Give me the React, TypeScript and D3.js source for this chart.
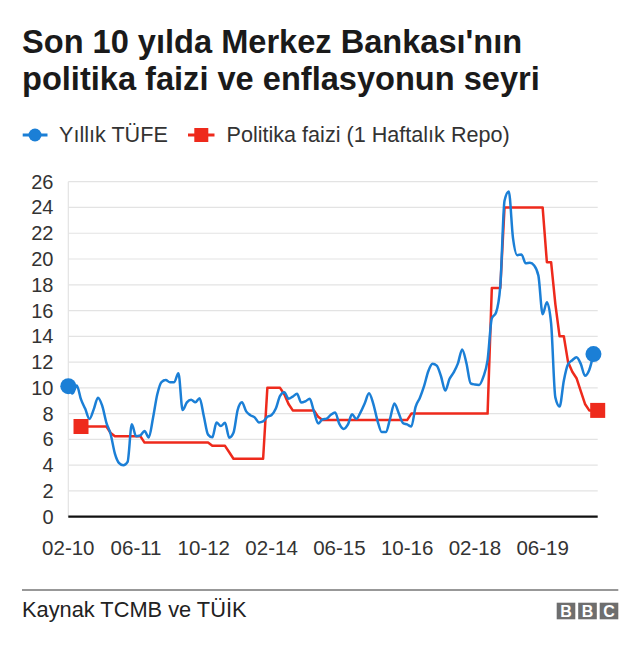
import React from "react";
import * as d3 from "d3";

// Yıllık TÜFE, monthly, 02-2010 .. 06-2020
const cpi: number[] = [
  10.13, 9.56, 10.19, 9.1, 8.37, 7.58, 8.33, 9.24, 8.62, 7.29, 6.4,
  4.9, 4.16, 3.99, 4.26, 7.17, 6.24, 6.31, 6.65, 6.15, 7.66, 9.48, 10.45,
  10.61, 10.43, 10.43, 11.14, 8.28, 8.87, 9.07, 8.88, 9.19, 7.8, 6.37, 6.16,
  7.31, 7.03, 7.29, 6.13, 6.51, 8.3, 8.88, 8.17, 7.88, 7.71, 7.32, 7.4,
  7.75, 7.89, 8.39, 9.38, 9.66, 9.16, 9.32, 9.54, 8.86, 8.96, 9.15, 8.17,
  7.24, 7.55, 7.61, 7.91, 8.09, 7.2, 6.81, 7.14, 7.95, 7.58, 8.1, 8.81,
  9.58, 8.78, 7.46, 6.57, 6.58, 7.64, 8.79, 8.05, 7.28, 7.16, 7.0, 8.53,
  9.22, 10.13, 11.29, 11.87, 11.72, 10.9, 9.79, 10.68, 11.2, 11.9, 12.98, 11.92,
  10.35, 10.26, 10.23, 10.85, 12.15, 15.39, 15.85, 17.9, 24.52, 25.24, 21.62, 20.3,
  20.35, 19.67, 19.71, 19.5, 18.71, 15.72, 16.65, 15.01, 9.26, 8.55, 10.56, 11.84,
  12.15, 12.37, 11.86, 10.94, 11.39, 12.62,
];

// Politika faizi (1 Haftalık Repo), monthly, 05-2010 .. 07-2020
const policyStart = 3; // month offset from 02-2010
const policy: number[] = [
  7, 7, 7, 7, 7, 7, 7, 6.5,
  6.25, 6.25, 6.25, 6.25, 6.25, 6.25, 6.25, 5.75, 5.75, 5.75, 5.75, 5.75,
  5.75, 5.75, 5.75, 5.75, 5.75, 5.75, 5.75, 5.75, 5.75, 5.75, 5.75, 5.5,
  5.5, 5.5, 5.5, 5.0, 4.5, 4.5, 4.5, 4.5, 4.5, 4.5, 4.5, 4.5,
  10, 10, 10, 10, 9.5, 8.75, 8.25, 8.25, 8.25, 8.25, 8.25, 8.25,
  7.75, 7.5, 7.5, 7.5, 7.5, 7.5, 7.5, 7.5, 7.5, 7.5, 7.5, 7.5,
  7.5, 7.5, 7.5, 7.5, 7.5, 7.5, 7.5, 7.5, 7.5, 7.5, 8, 8,
  8, 8, 8, 8, 8, 8, 8, 8, 8, 8, 8, 8,
  8, 8, 8, 8, 8, 17.75, 17.75, 17.75, 24, 24, 24, 24,
  24, 24, 24, 24, 24, 24, 19.75, 19.75, 16.5, 14, 14, 12,
  11.25, 10.75, 9.75, 8.75, 8.25, 8.25, 8.25,
];

const xTickLabels = ["02-10", "06-11", "10-12", "02-14", "06-15", "10-16", "02-18", "06-19"];
const xTickIndex = [0, 16, 32, 48, 64, 80, 96, 112];
const yTicks = [0, 2, 4, 6, 8, 10, 12, 14, 16, 18, 20, 22, 24, 26];

const BLUE = "#1b7fd6";
const RED = "#ee2a1c";
const FONT = "'Liberation Sans', Arial, sans-serif";

export default function App() {
  const W = 640;
  const H = 649;
  const x0 = 68.3;
  const x1 = 597.7;
  const x = d3.scaleLinear().domain([0, 125]).range([x0, x1]);
  const y = d3.scaleLinear().domain([0, 26]).range([516.7, 181.7]);

  const cpiPts: [number, number][] = cpi.map((v, i) => [x(i), y(v)]);
  const polPts: [number, number][] = policy.map((v, i) => [x(i + policyStart), y(v)]);

  const blueLine = d3.line().curve(d3.curveMonotoneX)(cpiPts) || "";
  const redLine = d3.line()(polPts) || "";

  const firstB = cpiPts[0];
  const lastB = cpiPts[cpiPts.length - 1];
  const firstR = polPts[0];
  const lastR = polPts[polPts.length - 1];
  const sq = 15;

  const bbcX = 556.7;
  const boxW = 18.6;
  const gap = 2.9;

  return (
    <svg
      width={W}
      height={H}
      style={{ position: "absolute", left: 0, top: 0, display: "block", background: "#fff" }}
      fontFamily={FONT}
    >
      {/* Title */}
      <text x={22} y={53} fontSize={32.6} fontWeight="bold" fill="#1a1a1a">
        Son 10 yılda Merkez Bankası'nın
      </text>
      <text x={22} y={90} fontSize={32.6} fontWeight="bold" fill="#1a1a1a">
        politika faizi ve enflasyonun seyri
      </text>

      {/* Legend */}
      <line x1={22.7} x2={47.5} y1={135} y2={135} stroke={BLUE} strokeWidth={3} />
      <circle cx={35} cy={135} r={6.5} fill={BLUE} />
      <text x={59} y={142} fontSize={21.6} fill="#333">
        Yıllık TÜFE
      </text>
      <line x1={188} x2={214.5} y1={135} y2={135} stroke={RED} strokeWidth={3} />
      <rect x={201.3 - 7} y={128} width={14} height={14} fill={RED} />
      <text x={226.5} y={142} fontSize={21.6} fill="#333">
        Politika faizi (1 Haftalık Repo)
      </text>

      {/* Grid */}
      {yTicks.map((t) =>
        t === 0 ? null : (
          <line key={t} x1={x0} x2={x1} y1={y(t)} y2={y(t)} stroke="#e3e3e3" strokeWidth={1.2} />
        )
      )}
      <line x1={x0} x2={x0} y1={y(26)} y2={y(0)} stroke="#e3e3e3" strokeWidth={1.2} />

      {/* Y labels */}
      {yTicks.map((t) => (
        <text key={t} x={53.5} y={y(t)} dy="0.35em" textAnchor="end" fontSize={20} fill="#333">
          {t}
        </text>
      ))}

      {/* X labels */}
      {xTickIndex.map((idx, i) => (
        <text key={idx} x={x(idx)} y={555} textAnchor="middle" fontSize={20.5} fill="#333">
          {xTickLabels[i]}
        </text>
      ))}

      {/* Series */}
      <path d={redLine} fill="none" stroke={RED} strokeWidth={2.5} strokeLinejoin="round" />
      <path d={blueLine} fill="none" stroke={BLUE} strokeWidth={2.5} strokeLinejoin="round" />

      {/* Baseline */}
      <line x1={x0} x2={x1} y1={y(0)} y2={y(0)} stroke="#111" strokeWidth={2.2} />

      {/* End markers */}
      <circle cx={firstB[0]} cy={firstB[1]} r={8} fill={BLUE} />
      <circle cx={lastB[0]} cy={lastB[1]} r={8} fill={BLUE} />
      <rect x={firstR[0] - sq / 2} y={firstR[1] - sq / 2} width={sq} height={sq} fill={RED} />
      <rect x={lastR[0] - sq / 2} y={lastR[1] - sq / 2} width={sq} height={sq} fill={RED} />

      {/* Footer */}
      <line x1={22} x2={618.3} y1={590} y2={590} stroke="#333" strokeWidth={1.2} />
      <text x={22} y={617} fontSize={21.8} fill="#222">
        Kaynak TCMB ve TÜİK
      </text>
      {["B", "B", "C"].map((c, i) => (
        <g key={i}>
          <rect x={bbcX + i * (boxW + gap)} y={602.7} width={boxW} height={16.6} fill="#6e6e6e" />
          <text
            x={bbcX + i * (boxW + gap) + boxW / 2}
            y={617}
            textAnchor="middle"
            fontSize={16}
            fontWeight="bold"
            fill="#fff"
          >
            {c}
          </text>
        </g>
      ))}
    </svg>
  );
}
